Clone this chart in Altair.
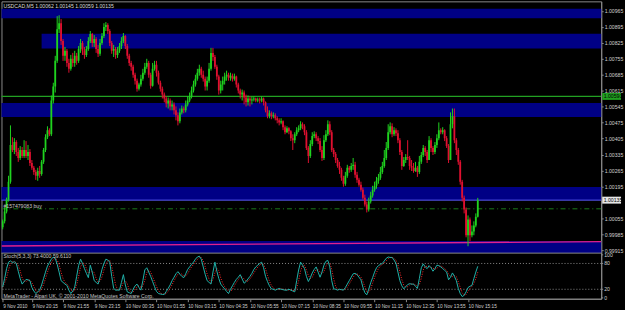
import json
import altair as alt
import pandas as pd

# ---------------- data ----------------
first_open = 1.00016
close = [
    1.00042, 1.00085, 1.00137, 1.00216, 1.00377, 1.00355, 1.00390, 1.00346, 1.00320, 1.00355,
    1.00329, 1.00355, 1.00329, 1.00346, 1.00298, 1.00277, 1.00259, 1.00242, 1.00263, 1.00250,
    1.00303, 1.00355, 1.00411, 1.00442, 1.00424, 1.00572, 1.00633, 1.00746, 1.00885, 1.00911,
    1.00833, 1.00768, 1.00790, 1.00737, 1.00711, 1.00755, 1.00737, 1.00768, 1.00746, 1.00798,
    1.00824, 1.00790, 1.00772, 1.00798, 1.00833, 1.00864, 1.00824, 1.00842, 1.00798, 1.00777,
    1.00824, 1.00855, 1.00894, 1.00903, 1.00877, 1.00824, 1.00790, 1.00798, 1.00772, 1.00790,
    1.00811, 1.00833, 1.00855, 1.00811, 1.00768, 1.00737, 1.00720, 1.00685, 1.00659, 1.00624,
    1.00642, 1.00668, 1.00694, 1.00720, 1.00737, 1.00685, 1.00637, 1.00711, 1.00729, 1.00694,
    1.00650, 1.00624, 1.00598, 1.00581, 1.00559, 1.00572, 1.00546, 1.00555, 1.00529, 1.00507,
    1.00481, 1.00520, 1.00537, 1.00529, 1.00555, 1.00572, 1.00590, 1.00616, 1.00642, 1.00668,
    1.00694, 1.00711, 1.00685, 1.00668, 1.00633, 1.00659, 1.00711, 1.00781, 1.00763, 1.00720,
    1.00677, 1.00616, 1.00642, 1.00659, 1.00677, 1.00685, 1.00672, 1.00681, 1.00668, 1.00677,
    1.00642, 1.00616, 1.00598, 1.00607, 1.00585, 1.00564, 1.00581, 1.00572, 1.00577, 1.00581,
    1.00572, 1.00577, 1.00572, 1.00581, 1.00564, 1.00529, 1.00503, 1.00516, 1.00503, 1.00507,
    1.00494, 1.00485, 1.00476, 1.00481, 1.00455, 1.00433, 1.00450, 1.00437, 1.00407, 1.00398,
    1.00424, 1.00442, 1.00450, 1.00468, 1.00459, 1.00433, 1.00364, 1.00329, 1.00381, 1.00416,
    1.00424, 1.00407, 1.00394, 1.00355, 1.00320, 1.00398, 1.00424, 1.00468, 1.00433, 1.00355,
    1.00337, 1.00311, 1.00285, 1.00268, 1.00233, 1.00207, 1.00242, 1.00277, 1.00268, 1.00285,
    1.00290, 1.00246, 1.00224, 1.00203, 1.00181, 1.00146, 1.00116, 1.00094, 1.00129, 1.00155,
    1.00181, 1.00198, 1.00220, 1.00233, 1.00259, 1.00285, 1.00320, 1.00364, 1.00433, 1.00459,
    1.00424, 1.00442, 1.00429, 1.00398, 1.00346, 1.00285, 1.00311, 1.00324, 1.00320, 1.00285,
    1.00277, 1.00263, 1.00277, 1.00259, 1.00303, 1.00333, 1.00364, 1.00346, 1.00311, 1.00398,
    1.00364, 1.00346, 1.00377, 1.00407, 1.00442, 1.00433, 1.00442, 1.00407, 1.00372, 1.00311,
    1.00468, 1.00503, 1.00398, 1.00355, 1.00303, 1.00216, 1.00146, 1.00094, 0.99981, 1.00050,
    0.99981, 0.99998, 1.00024, 1.00062, 1.00135,
]
high = [
    1.00050, 1.00103, 1.00146, 1.00242, 1.00463, 1.00411, 1.00407, 1.00398, 1.00364, 1.00372,
    1.00368, 1.00398, 1.00394, 1.00377, 1.00359, 1.00311, 1.00285, 1.00268, 1.00277, 1.00285,
    1.00311, 1.00364, 1.00424, 1.00459, 1.00450, 1.00594, 1.00650, 1.00768, 1.00942, 1.00946,
    1.00929, 1.00842, 1.00807, 1.00798, 1.00755, 1.00772, 1.00781, 1.00790, 1.00781, 1.00811,
    1.00842, 1.00833, 1.00807, 1.00811, 1.00850, 1.00877, 1.00868, 1.00859, 1.00850, 1.00816,
    1.00842, 1.00868, 1.00911, 1.00916, 1.00911, 1.00885, 1.00833, 1.00816, 1.00807, 1.00807,
    1.00824, 1.00850, 1.00868, 1.00859, 1.00820, 1.00777, 1.00746, 1.00729, 1.00694, 1.00668,
    1.00650, 1.00685, 1.00711, 1.00737, 1.00755, 1.00746, 1.00694, 1.00737, 1.00746, 1.00746,
    1.00703, 1.00659, 1.00633, 1.00607, 1.00590, 1.00585, 1.00581, 1.00572, 1.00564, 1.00546,
    1.00520, 1.00537, 1.00550, 1.00546, 1.00572, 1.00590, 1.00607, 1.00633, 1.00659, 1.00685,
    1.00711, 1.00729, 1.00720, 1.00703, 1.00677, 1.00677, 1.00737, 1.00803, 1.00803, 1.00772,
    1.00729, 1.00685, 1.00659, 1.00677, 1.00694, 1.00703, 1.00694, 1.00694, 1.00690, 1.00690,
    1.00681, 1.00650, 1.00624, 1.00620, 1.00616, 1.00598, 1.00594, 1.00590, 1.00590, 1.00590,
    1.00585, 1.00585, 1.00585, 1.00590, 1.00585, 1.00568, 1.00546, 1.00529, 1.00524, 1.00520,
    1.00516, 1.00503, 1.00494, 1.00494, 1.00485, 1.00463, 1.00459, 1.00455, 1.00442, 1.00424,
    1.00433, 1.00455, 1.00463, 1.00481, 1.00476, 1.00468, 1.00442, 1.00372, 1.00398, 1.00433,
    1.00437, 1.00433, 1.00416, 1.00407, 1.00372, 1.00420, 1.00442, 1.00485, 1.00481, 1.00442,
    1.00364, 1.00346, 1.00320, 1.00303, 1.00277, 1.00242, 1.00259, 1.00290, 1.00285, 1.00298,
    1.00320, 1.00303, 1.00259, 1.00233, 1.00216, 1.00190, 1.00159, 1.00129, 1.00146, 1.00172,
    1.00198, 1.00216, 1.00237, 1.00250, 1.00281, 1.00303, 1.00355, 1.00390, 1.00468, 1.00476,
    1.00472, 1.00455, 1.00450, 1.00442, 1.00407, 1.00355, 1.00324, 1.00337, 1.00398, 1.00329,
    1.00311, 1.00298, 1.00303, 1.00285, 1.00329, 1.00346, 1.00377, 1.00372, 1.00355, 1.00416,
    1.00407, 1.00372, 1.00390, 1.00424, 1.00476, 1.00450, 1.00455, 1.00446, 1.00416, 1.00381,
    1.00520, 1.00537, 1.00537, 1.00407, 1.00364, 1.00311, 1.00224, 1.00155, 1.00103, 1.00068,
    1.00059, 1.00024, 1.00042, 1.00077, 1.00145,
]
low = [
    1.00007, 1.00033, 1.00077, 1.00129, 1.00207, 1.00346, 1.00337, 1.00329, 1.00303, 1.00311,
    1.00320, 1.00320, 1.00320, 1.00311, 1.00285, 1.00268, 1.00246, 1.00224, 1.00220, 1.00233,
    1.00242, 1.00294, 1.00346, 1.00403, 1.00416, 1.00416, 1.00559, 1.00607, 1.00737, 1.00868,
    1.00816, 1.00746, 1.00746, 1.00720, 1.00694, 1.00703, 1.00720, 1.00720, 1.00729, 1.00737,
    1.00781, 1.00772, 1.00755, 1.00763, 1.00790, 1.00824, 1.00807, 1.00807, 1.00781, 1.00763,
    1.00768, 1.00816, 1.00846, 1.00877, 1.00864, 1.00811, 1.00777, 1.00763, 1.00755, 1.00759,
    1.00781, 1.00798, 1.00824, 1.00798, 1.00755, 1.00724, 1.00703, 1.00672, 1.00642, 1.00611,
    1.00616, 1.00633, 1.00659, 1.00685, 1.00711, 1.00672, 1.00624, 1.00633, 1.00703, 1.00677,
    1.00642, 1.00611, 1.00581, 1.00564, 1.00542, 1.00537, 1.00529, 1.00529, 1.00511, 1.00485,
    1.00463, 1.00472, 1.00511, 1.00516, 1.00520, 1.00546, 1.00564, 1.00581, 1.00607, 1.00633,
    1.00659, 1.00681, 1.00672, 1.00655, 1.00616, 1.00616, 1.00650, 1.00703, 1.00746, 1.00711,
    1.00663, 1.00598, 1.00603, 1.00616, 1.00642, 1.00659, 1.00659, 1.00659, 1.00655, 1.00659,
    1.00629, 1.00603, 1.00581, 1.00572, 1.00555, 1.00546, 1.00550, 1.00546, 1.00555, 1.00568,
    1.00564, 1.00564, 1.00559, 1.00564, 1.00550, 1.00520, 1.00494, 1.00494, 1.00490, 1.00494,
    1.00485, 1.00472, 1.00463, 1.00468, 1.00442, 1.00424, 1.00429, 1.00424, 1.00394, 1.00355,
    1.00385, 1.00416, 1.00433, 1.00442, 1.00446, 1.00420, 1.00355, 1.00298, 1.00320, 1.00372,
    1.00407, 1.00394, 1.00381, 1.00346, 1.00307, 1.00311, 1.00390, 1.00416, 1.00420, 1.00346,
    1.00324, 1.00298, 1.00277, 1.00250, 1.00220, 1.00194, 1.00198, 1.00233, 1.00255, 1.00259,
    1.00268, 1.00233, 1.00211, 1.00194, 1.00172, 1.00137, 1.00107, 1.00081, 1.00085, 1.00120,
    1.00146, 1.00172, 1.00185, 1.00207, 1.00224, 1.00250, 1.00277, 1.00311, 1.00355, 1.00424,
    1.00411, 1.00416, 1.00416, 1.00385, 1.00333, 1.00268, 1.00281, 1.00298, 1.00311, 1.00268,
    1.00263, 1.00255, 1.00259, 1.00237, 1.00250, 1.00294, 1.00324, 1.00329, 1.00298, 1.00311,
    1.00346, 1.00333, 1.00337, 1.00364, 1.00398, 1.00424, 1.00424, 1.00394, 1.00364, 1.00298,
    1.00311, 1.00450, 1.00385, 1.00333, 1.00290, 1.00203, 1.00129, 1.00077, 0.99972, 0.99933,
    0.99955, 0.99972, 0.99981, 1.00016, 1.00059,
]
stoch_k = [
    25, 45, 68, 83, 86, 82, 84, 80, 62, 45,
    32, 38, 43, 42, 40, 24, 16, 10, 14, 18,
    30, 45, 60, 74, 82, 90, 95, 92, 78, 60,
    40, 36, 32, 29, 18, 10, 16, 25, 50, 75,
    90, 80, 68, 57, 47, 76, 60, 40, 36, 32,
    48, 66, 80, 90, 88, 83, 50, 22, 18, 18,
    18, 36, 54, 30, 14, 12, 10, 20, 28, 32,
    24, 18, 40, 65, 70, 60, 50, 38, 26, 15,
    10, 9, 8, 8, 15, 22, 30, 40, 48, 56,
    61, 55, 50, 47, 56, 66, 72, 78, 83, 90,
    95, 97, 90, 72, 55, 40, 36, 32, 60, 83,
    62, 45, 32, 26, 21, 15, 10, 20, 28, 36,
    43, 48, 54, 44, 34, 38, 44, 50, 57, 66,
    72, 76, 80, 83, 70, 50, 38, 28, 21, 20,
    18, 20, 22, 20, 19, 18, 18, 20, 18, 16,
    14, 40, 65, 83, 76, 68, 50, 38, 47, 58,
    66, 72, 60, 48, 60, 76, 85, 87, 72, 40,
    21, 20, 18, 20, 19, 18, 24, 32, 40, 48,
    56, 57, 54, 48, 42, 25, 12, 7, 20, 35,
    47, 60, 70, 75, 78, 80, 86, 92, 95, 94,
    94, 88, 80, 60, 40, 28, 21, 26, 31, 33,
    32, 32, 27, 22, 45, 70, 79, 72, 68, 75,
    70, 62, 68, 76, 75, 72, 68, 64, 60, 42,
    48, 58, 50, 40, 22, 10, 3, 6, 14, 24,
    27, 29, 45, 60, 73.4,
]

# price zones (rectangles); the last one runs down to the lower edge of the price panel
band_from = [-5, 20, -5, -5, -5]
band_to = [400, 400, 400, 400, 400]
band_low = [1.00933, 1.00800, 1.00500, 1.00135, 0.99903]
band_high = [1.00975, 1.00865, 1.00561, 1.00193, 0.99956]

level_price = 1.00590
bid_price = 1.00135
order_price = 1.00097
order_label = "#157479083 buy"
trend_bars = [-0.61, 307.4]
trend_prices = [0.99934, 0.99953]
axis_box_prices = [1.00590, 1.00135]
axis_box_texts = ["1.00590", "1.00135"]
axis_box_colors = ["#1f9f1f", "#e6e6e6"]

title_text = "USDCAD,M5  1.00062 1.00145 1.00059 1.00135"
stoch_text = "Stoch(5,3,3) 73.4000 59.6110"
copyright_text = "MetaTrader - Alpari UK, \u00a9 2001-2010 MetaQuotes Software Corp."

price_ticks = [1.00965, 1.00895, 1.00825, 1.00755, 1.00685, 1.00615, 1.00545,
               1.00475, 1.00405, 1.00335, 1.00265, 1.00195, 1.00055, 0.99985, 0.99915]
time_tick_bars = [0, 15, 31, 47, 63, 79, 95, 111, 127, 143, 159, 175, 191, 207, 223, 239]
time_tick_labels = ["9 Nov 2010", "9 Nov 20:15", "9 Nov 21:55", "9 Nov 23:15",
                    "10 Nov 00:35", "10 Nov 01:55", "10 Nov 03:15", "10 Nov 04:35",
                    "10 Nov 05:55", "10 Nov 07:15", "10 Nov 08:35", "10 Nov 09:55",
                    "10 Nov 11:15", "10 Nov 12:35", "10 Nov 13:55", "10 Nov 15:15"]
stoch_levels = [20, 80]
stoch_ticks = [0, 20, 80, 100]

# ---------------- layout: one plot area holding both panes ----------------
W, H = 605, 300
PRICE_PANE_BOTTOM = 0.999026          # price at the boundary between the two panes
PRICE_DOMAIN = [0.997026, 1.01007]    # price pane occupies the upper 254 px
STOCH_DOMAIN = [-2, 689.3]            # stochastic pane occupies the lower 46 px

# ---------------- tables ----------------
opens = [first_open] + close[:-1]
bars = list(range(len(close)))
candles = pd.DataFrame({"bar": bars, "open": opens, "high": high, "low": low, "close": close})
candles["dir"] = ["up" if c >= o else "down" for o, c in zip(opens, close)]
bands = pd.DataFrame({"x0": band_from, "x1": band_to, "lo": band_low, "hi": band_high})
stoch = pd.DataFrame({"bar": bars, "k": stoch_k})

# ---------------- styling ----------------
FONT = "Liberation Sans"
FS = 5.2
FSX = 4.8
TXT = "#d0d0d0"
FRAME = "#8a8a8a"
NAVY = "#000085"
UP, DOWN = "#1fd31f", "#e01030"

label_expr = "{}[indexof({}, datum.value)]".format(json.dumps(time_tick_labels),
                                                  json.dumps(time_tick_bars))
xaxis = alt.Axis(values=time_tick_bars, labelExpr=label_expr, labelAlign="left",
                 labelBaseline="top", labelFontSize=FSX, labelFont=FONT, labelColor=TXT,
                 labelPadding=2, tickSize=3, labelFlush=False, labelOverlap=False,
                 title=None, grid=False, domainColor=FRAME, tickColor=FRAME)
xs = alt.Scale(domain=[-0.61, 307.4], nice=False, zero=False, padding=0)
ys = alt.Scale(domain=PRICE_DOMAIN, nice=False, zero=False, padding=0)
ss = alt.Scale(domain=STOCH_DOMAIN, nice=False, zero=False, padding=0)
yaxis = alt.Axis(orient="right", values=price_ticks, format=".5f", title=None, grid=False,
                 tickSize=2, labelPadding=1, labelFontSize=FS, labelFont=FONT,
                 labelColor=TXT, domainColor=FRAME, tickColor=FRAME,
                 labelOverlap=False, labelFlush=False)


def X(f):
    return alt.X(f, type="quantitative", scale=xs, axis=xaxis)


def Y(f):
    return alt.Y(f, type="quantitative", scale=ys, axis=yaxis)


def SY(f):
    return alt.Y(f, type="quantitative", scale=ss, axis=None)


dircolor = alt.Color("dir:N", scale=alt.Scale(domain=["up", "down"], range=[UP, DOWN]), legend=None)

# ---- price pane ----
band_layer = alt.Chart(bands).mark_rect(color=NAVY, clip=True).encode(
    x=X("x0"), x2=alt.X2("x1"), y=Y("lo"), y2=alt.Y2("hi"))
split_layer = alt.Chart(pd.DataFrame({"p": [PRICE_PANE_BOTTOM]})).mark_rule(
    color=FRAME, strokeWidth=1).encode(y=Y("p"))
level_layer = alt.Chart(pd.DataFrame({"p": [level_price]})).mark_rule(
    color="#22a022", strokeWidth=1.2).encode(y=Y("p"))
bid_layer = alt.Chart(pd.DataFrame({"p": [bid_price]})).mark_rule(
    color="#5a5af0", strokeWidth=1).encode(y=Y("p"))
order_layer = alt.Chart(pd.DataFrame({"p": [order_price]})).mark_rule(
    color="#1b7a1b", strokeWidth=1, strokeDash=[5, 3, 1, 3]).encode(y=Y("p"))
order_text = alt.Chart(pd.DataFrame({"p": [order_price], "t": [order_label]})).mark_text(
    align="left", baseline="bottom", fontSize=FS, font=FONT, color="#c8c8c8").encode(
    x=alt.value(2), y=Y("p"), text="t:N")
trend_layer = alt.Chart(pd.DataFrame({"b": trend_bars, "p": trend_prices})).mark_line(
    color="#e0208c", strokeWidth=1.4, clip=True).encode(x=X("b"), y=Y("p"))
wick_layer = alt.Chart(candles).mark_rule(strokeWidth=1, clip=True).encode(
    x=X("bar"), y=Y("low"), y2=alt.Y2("high"), color=dircolor)
body_layer = alt.Chart(candles).mark_bar(width=1.8, clip=True).encode(
    x=X("bar"), y=Y("open"), y2=alt.Y2("close"), color=dircolor)
title_layer = alt.Chart(pd.DataFrame({"t": [title_text]})).mark_text(
    align="left", baseline="middle", fontSize=FS, font=FONT, color="#dcdcdc").encode(
    x=alt.value(2), y=alt.value(4.5), text="t:N")
boxes = pd.DataFrame({"p": axis_box_prices, "t": axis_box_texts, "c": axis_box_colors})
box_layer = alt.Chart(boxes).mark_rule(strokeWidth=7).encode(
    x=alt.value(606), x2=alt.value(625), y=Y("p"), color=alt.Color("c:N", scale=None))
box_text = alt.Chart(boxes).mark_text(align="left", baseline="middle", fontSize=FS,
                                      font=FONT, color="black").encode(
    x=alt.value(607.5), y=Y("p"), text="t:N")

price_pane = alt.layer(band_layer, split_layer, level_layer, bid_layer, order_layer,
                       trend_layer, wick_layer, body_layer, order_text, title_layer,
                       box_layer, box_text)

# ---- stochastic pane ----
lvl = alt.Chart(pd.DataFrame({"v": stoch_levels})).mark_rule(
    color=FRAME, strokeWidth=1, strokeDash=[1, 2]).encode(y=SY("v"))
kline = alt.Chart(stoch).mark_line(color="#20b2aa", strokeWidth=1, clip=True).encode(
    x=X("bar"), y=SY("k"))
dline = alt.Chart(stoch).transform_window(
    d="mean(k)", frame=[-2, 0], sort=[alt.SortField("bar")]).mark_line(
    color="#ff2a2a", strokeWidth=1, strokeDash=[1, 1.5], clip=True).encode(
    x=X("bar"), y=SY("d:Q"))
stick_df = pd.DataFrame({"v": stoch_ticks, "t": [str(v) for v in stoch_ticks]})
stoch_ticks_layer = alt.Chart(stick_df).mark_rule(color=FRAME, strokeWidth=1).encode(
    x=alt.value(W), x2=alt.value(W + 2), y=SY("v"))
stoch_tick_text = alt.Chart(stick_df).mark_text(
    align="left", baseline="middle", fontSize=FS, font=FONT, color=TXT).encode(
    x=alt.value(W + 3), y=SY("v"), text="t:N")
stoch_label = alt.Chart(pd.DataFrame({"t": [stoch_text]})).mark_text(
    align="left", baseline="middle", fontSize=FS, font=FONT, color="#c8c8c8").encode(
    x=alt.value(2), y=alt.value(257.3), text="t:N")
copy_label = alt.Chart(pd.DataFrame({"t": [copyright_text]})).mark_text(
    align="left", baseline="middle", fontSize=FS, font=FONT, color="#c8c8c8").encode(
    x=alt.value(2), y=alt.value(297.3), text="t:N")

stoch_pane = alt.layer(lvl, dline, kline, stoch_ticks_layer, stoch_tick_text,
                       stoch_label, copy_label)

chart = alt.layer(price_pane, stoch_pane).resolve_scale(y="independent").properties(
    width=W, height=H, background="black",
    padding={"left": 0.5, "top": 0, "right": 0, "bottom": 0},
).configure_view(stroke=FRAME, strokeWidth=1).configure_axis(labelFont=FONT)

chart.save("out.html", embed_options={"renderer": "svg", "actions": False})
